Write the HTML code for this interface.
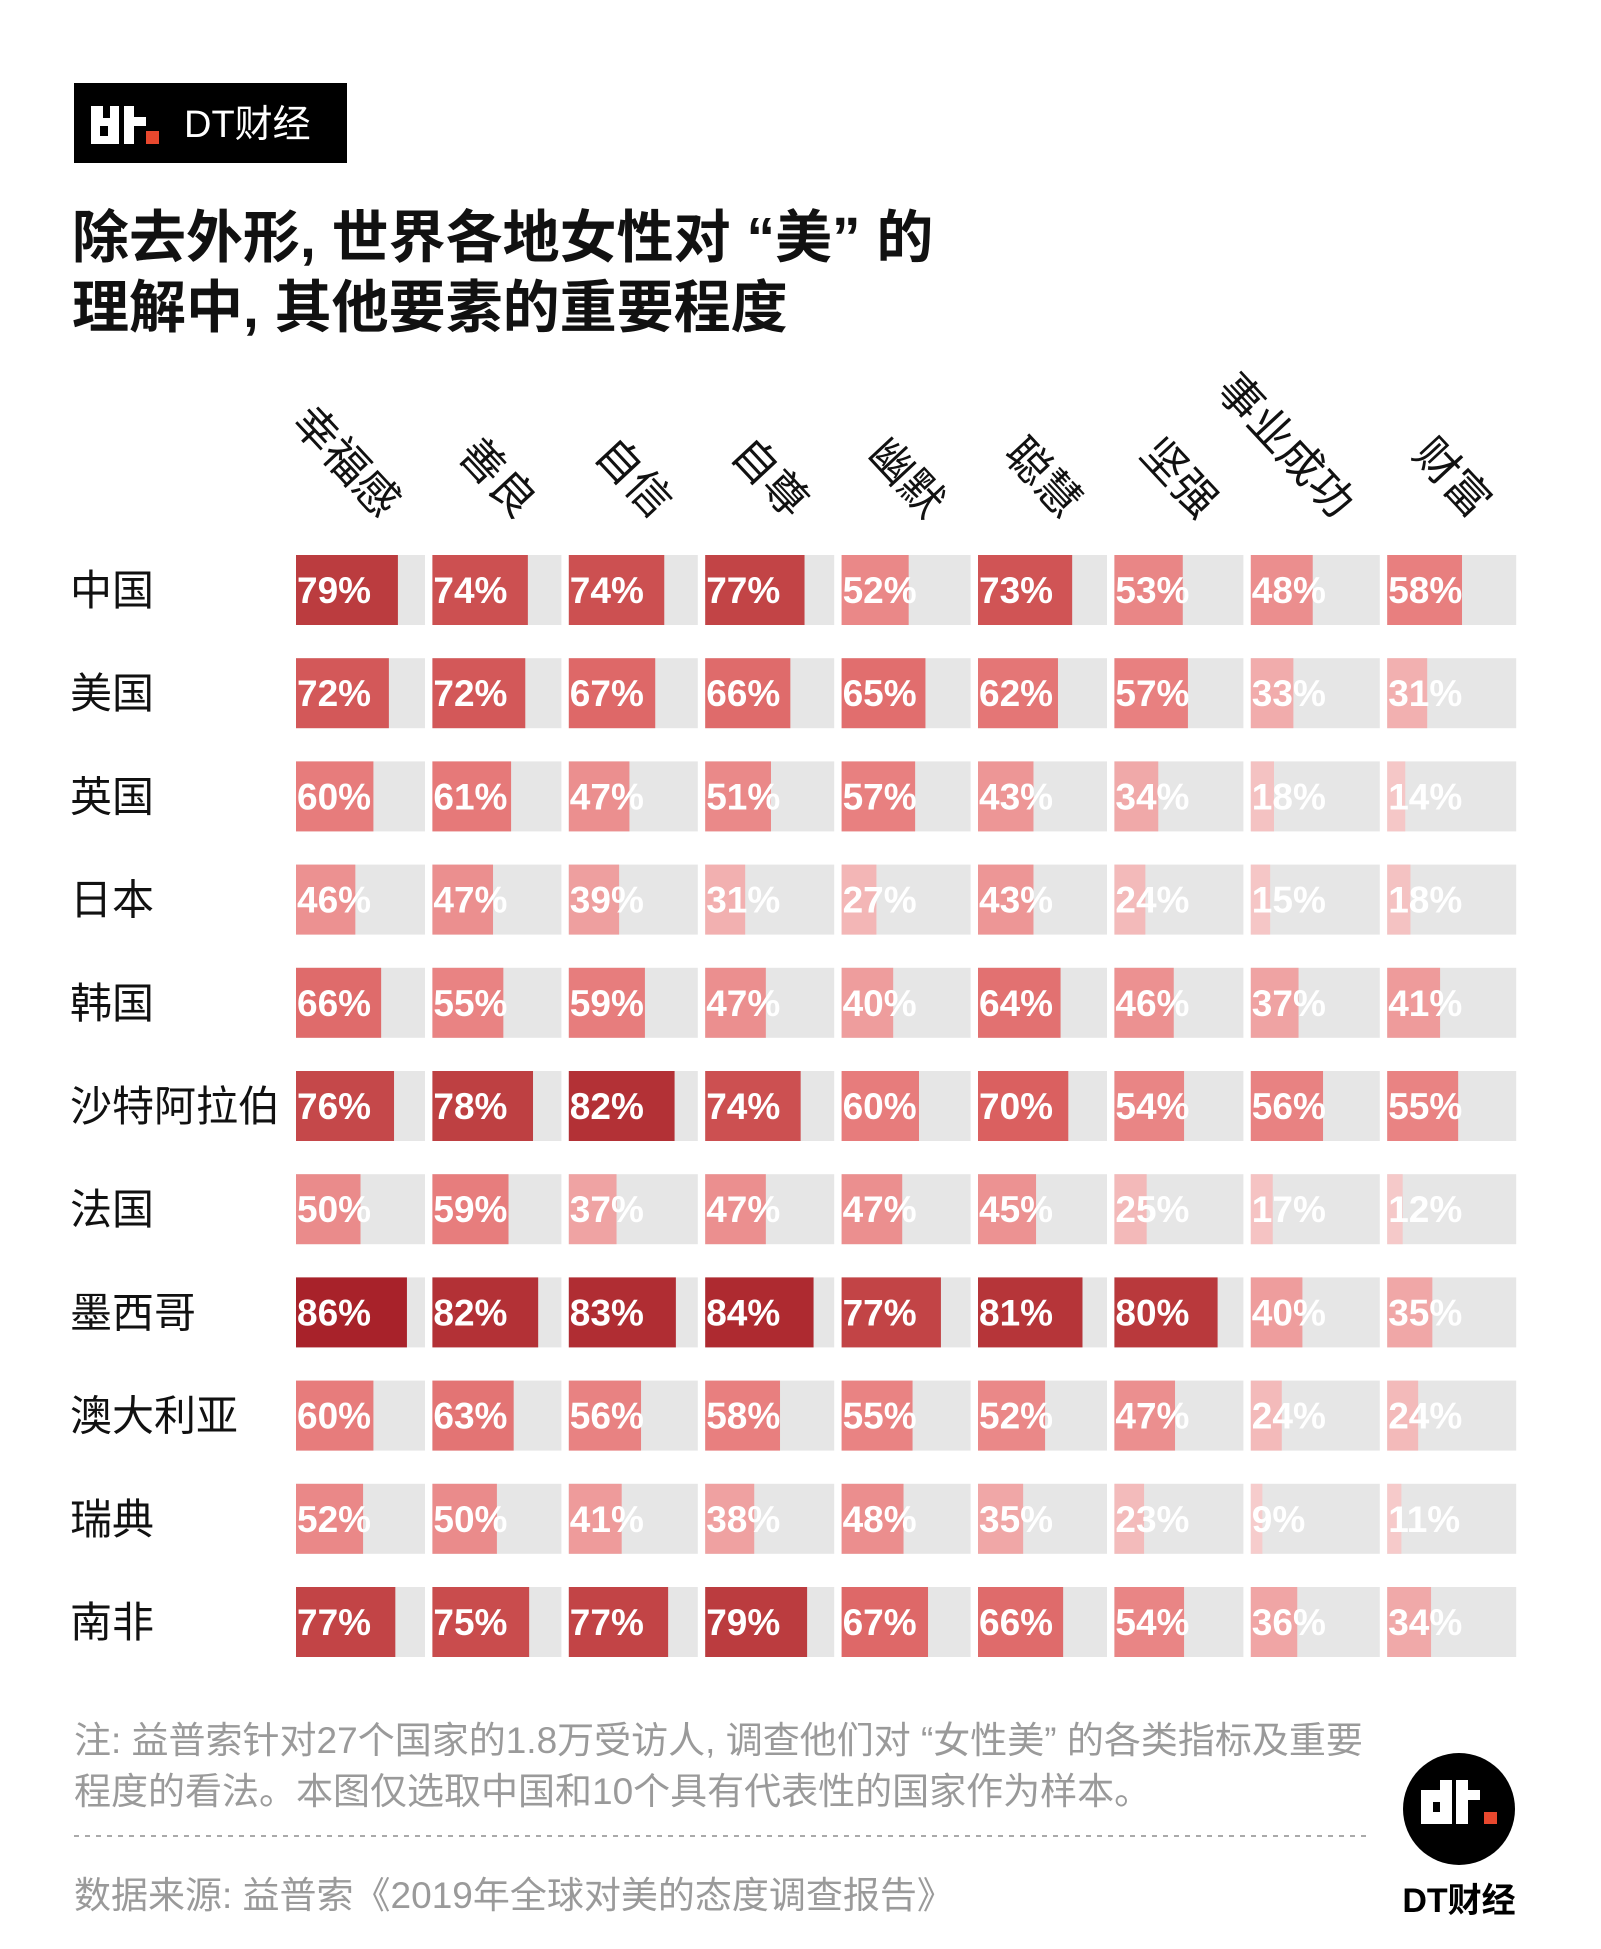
<!DOCTYPE html>
<html><head><meta charset="utf-8">
<style>
html,body{margin:0;padding:0;background:#fff;}
svg{display:block;}
text{font-family:"Liberation Sans","Noto Sans CJK SC",sans-serif;}
</style></head>
<body>
<svg id="chart" width="1601" height="1949" viewBox="0 0 1601 1949" xmlns="http://www.w3.org/2000/svg">
  <g>
    <rect x="74" y="83" width="273" height="80" fill="#000"/>
    <rect x="91" y="106" width="12" height="38" fill="#fff"/>
    <rect x="91" y="118" width="26" height="26" fill="#fff"/><rect x="100" y="126" width="8" height="10" fill="#000"/>
    <rect x="110" y="106" width="9" height="38" fill="#fff"/>
    <rect x="124" y="106" width="10" height="38" fill="#fff"/><rect x="124" y="117" width="22" height="9" fill="#fff"/>
    <rect x="146" y="131" width="13" height="13" fill="#e8482e"/>
    <text x="184" y="137" font-size="38" fill="#fff">DT财经</text>
  </g>
  <text x="72" y="257" font-size="57" font-weight="bold" fill="#111">除去外形, 世界各地女性对 “美” 的</text>
  <text x="72" y="327" font-size="57" font-weight="bold" fill="#111">理解中, 其他要素的重要程度</text>
  <g id="headers"></g>
  <g id="rowlabels"></g>
  <g id="cells"></g>
  <text x="74" y="1753" font-size="37" fill="#9a9a9a">注: 益普索针对27个国家的1.8万受访人, 调查他们对 “女性美” 的各类指标及重要</text>
  <text x="74" y="1804" font-size="37" fill="#9a9a9a">程度的看法。本图仅选取中国和10个具有代表性的国家作为样本。</text>
  <line x1="74" y1="1836" x2="1370" y2="1836" stroke="#aaa" stroke-width="2" stroke-dasharray="5,6"/>
  <text x="74" y="1908" font-size="37" fill="#9a9a9a">数据来源: 益普索《2019年全球对美的态度调查报告》</text>
  <g>
    <circle cx="1459" cy="1809" r="56" fill="#000"/>
    <rect x="1421" y="1790" width="12" height="34" fill="#fff"/>
    <rect x="1421" y="1790" width="28" height="12" fill="#fff"/>
    <rect x="1421" y="1812" width="28" height="12" fill="#fff"/>
    <rect x="1440" y="1780" width="12" height="44" fill="#fff"/>
    <rect x="1456" y="1780" width="12" height="44" fill="#fff"/><rect x="1456" y="1790" width="24" height="10" fill="#fff"/>
    <rect x="1484" y="1812" width="13" height="12" fill="#e8482e"/>
    <text x="1459" y="1912" font-size="34" font-weight="bold" text-anchor="middle" fill="#000">DT财经</text>
  </g>
</svg>
<script>
const categories = ["幸福感","善良","自信","自尊","幽默","聪慧","坚强","事业成功","财富"];
const countries = ["中国","美国","英国","日本","韩国","沙特阿拉伯","法国","墨西哥","澳大利亚","瑞典","南非"];
const vChina = [79,74,74,77,52,73,53,48,58];
const vUSA = [72,72,67,66,65,62,57,33,31];
const vUK = [60,61,47,51,57,43,34,18,14];
const vJapan = [46,47,39,31,27,43,24,15,18];
const vKorea = [66,55,59,47,40,64,46,37,41];
const vSaudi = [76,78,82,74,60,70,54,56,55];
const vFrance = [50,59,37,47,47,45,25,17,12];
const vMexico = [86,82,83,84,77,81,80,40,35];
const vAustralia = [60,63,56,58,55,52,47,24,24];
const vSweden = [52,50,41,38,48,35,23,9,11];
const vSouthAfrica = [77,75,77,79,67,66,54,36,34];
const values = [vChina,vUSA,vUK,vJapan,vKorea,vSaudi,vFrance,vMexico,vAustralia,vSweden,vSouthAfrica];

const NS = "http://www.w3.org/2000/svg";
const X0 = 296, XSTEP = 136.4, CW = 129;
const Y0 = 555, YSTEP = 103.2, CH = 70;
const xCol = i => X0 + i * XSTEP;
const yRow = j => Y0 + j * YSTEP;
const wVal = v => CW * v / 100;

const stops = [[0,[247,212,212]],[15,[245,198,198]],[30,[242,178,178]],[45,[236,146,146]],[60,[231,124,124]],[70,[218,96,96]],[78,[190,64,66]],[86,[168,34,42]],[100,[150,20,30]]];
function colorFor(v){
  for(let k=1;k<stops.length;k++){
    if(v<=stops[k][0]){
      const a=stops[k-1], b=stops[k], t=(v-a[0])/(b[0]-a[0]);
      const c=a[1].map((x,i)=>Math.round(x+(b[1][i]-x)*t));
      return `rgb(${c.join(',')})`;
    }
  }
  return 'rgb(150,20,30)';
}

const hg = document.getElementById('headers');
categories.forEach((c,i)=>{
  const t = document.createElementNS(NS,'text');
  
  
  const ex = xCol(i) + 84, ey = 520;
  t.setAttribute('transform',`translate(${ex},${ey}) rotate(47)`);
  t.setAttribute('text-anchor','end');
  t.setAttribute('font-size','44');
  t.setAttribute('fill','#111');
  t.textContent = c;
  hg.appendChild(t);
});

const rg = document.getElementById('rowlabels');
countries.forEach((c,j)=>{
  const t = document.createElementNS(NS,'text');
  
  
  t.setAttribute('x','70');
  t.setAttribute('y', yRow(j) + CH/2 + 15);
  t.setAttribute('font-size','42');
  t.setAttribute('fill','#111');
  t.textContent = c;
  rg.appendChild(t);
});

const cg = document.getElementById('cells');
values.forEach((row,j)=>{
  row.forEach((v,i)=>{
    const bg = document.createElementNS(NS,'rect');
    
    
    bg.setAttribute('x',xCol(i)); bg.setAttribute('y',yRow(j));
    bg.setAttribute('width',CW); bg.setAttribute('height',CH);
    bg.setAttribute('fill','#e6e6e6');
    cg.appendChild(bg);
    const b = document.createElementNS(NS,'rect');
    
    
    b.setAttribute('x',xCol(i)); b.setAttribute('y',yRow(j));
    b.setAttribute('width',wVal(v)); b.setAttribute('height',CH);
    b.setAttribute('fill',colorFor(v));
    cg.appendChild(b);
    const t = document.createElementNS(NS,'text');
    
    
    t.setAttribute('x',xCol(i)+1); t.setAttribute('y',yRow(j)+CH/2+13);
    t.setAttribute('font-size','37'); t.setAttribute('font-weight','bold');
    t.setAttribute('fill','#fff');
    t.textContent = v + '%';
    cg.appendChild(t);
  });
});
</script>
</body></html>
